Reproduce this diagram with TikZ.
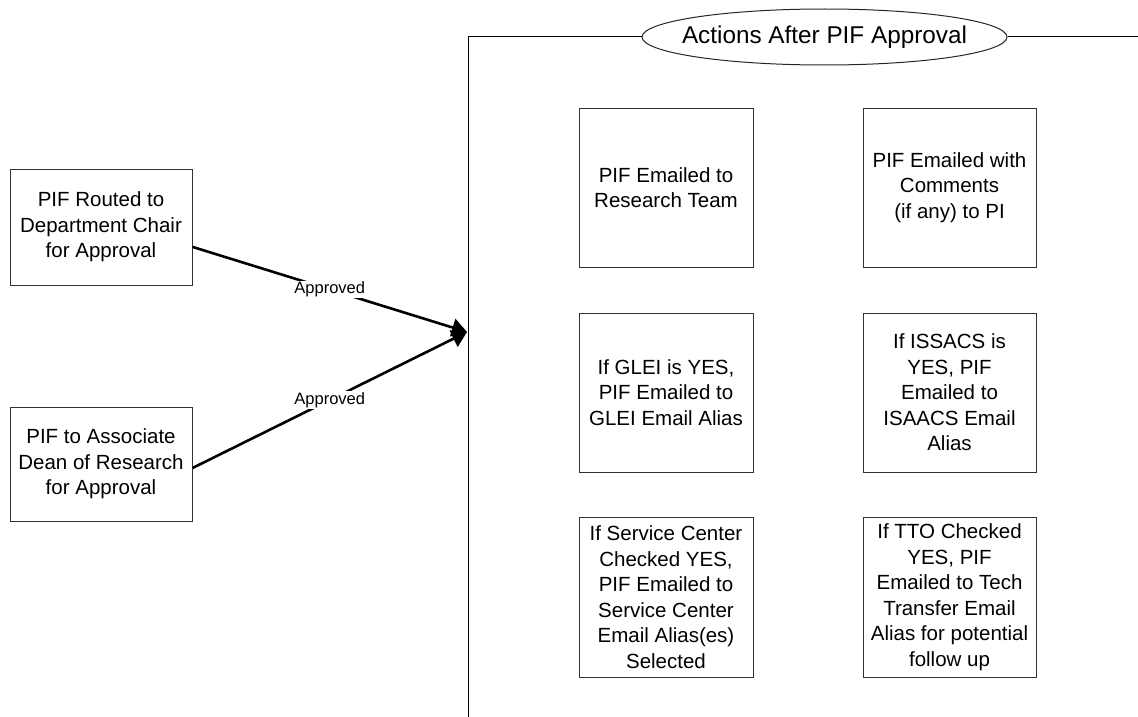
\documentclass[tikz,border=0pt]{standalone}
\usepackage{fontspec}
\setmainfont{Liberation Sans}
\usepackage{tikz}
\usetikzlibrary{arrows.meta, positioning, shapes.geometric, calc}

\begin{document}
\begin{tikzpicture}[x=1pt, y=-1pt,
    stepbox/.style={rectangle, draw=black!80, line width=1pt, align=center, inner sep=2pt,
        font=\fontsize{20.5}{25.5}\selectfont},
    approved/.style={fill=white, inner sep=1pt, font=\fontsize{16.5}{19}\selectfont},
    flow/.style={line width=2.6pt, -{Triangle[length=15pt, width=18pt]}}]
          \useasboundingbox (0,0) rectangle (1138,717);

          % left side
          \node[stepbox, minimum width=182pt, minimum height=116pt] (chair) at (101,227) {PIF Routed to\\Department Chair\\for Approval};
          \node[stepbox, minimum width=182pt, minimum height=114pt] (dean) at (101,464) {PIF to Associate\\Dean of Research\\for Approval};

          % frame and title
          \node[ellipse, draw=black!85, line width=1pt, minimum width=365pt, minimum height=56pt, inner sep=0pt,
                font=\fontsize{24.3}{28}\selectfont] (title) at (824.5,37) {\makebox[0pt]{Actions After PIF Approval}};
          \coordinate (corner) at (468,37);
          \coordinate (bottom) at (468,717);
          \coordinate (edge) at (1138,37);
          \draw[line width=1pt] (bottom) -- (corner) -- (title.west);
          \draw[line width=1pt] (title.east) -- (edge);
          \coordinate (tip) at (467,332);

          % actions
          \node[stepbox, minimum width=174pt, minimum height=159pt] (team) at (666,187.5) {PIF Emailed to\\Research Team};
          \node[stepbox, minimum width=173pt, minimum height=159pt] (pi) at (949.5,187.5) {PIF Emailed with\\Comments\\(if any) to PI};
          \node[stepbox, minimum width=174pt, minimum height=159pt] (glei) at (666,392.5) {If GLEI is YES,\\PIF Emailed to\\GLEI Email Alias};
          \node[stepbox, minimum width=173pt, minimum height=159pt] (isaacs) at (949.5,392.5) {If ISSACS is\\YES, PIF\\Emailed to\\ISAACS Email\\Alias};
          \node[stepbox, minimum width=174pt, minimum height=160pt] (service) at (666,597) {If Service Center\\Checked YES,\\PIF Emailed to\\Service Center\\Email Alias(es)\\Selected};
          \node[stepbox, minimum width=173pt, minimum height=160pt] (tto) at (949.5,597) {If TTO Checked\\YES, PIF\\Emailed to Tech\\Transfer Email\\Alias for potential\\follow up};

          \draw[flow] ($(chair.north east)!0.67!(chair.south east)$) -- node[approved] (ok1) {Approved} (tip);
          \draw[flow] ($(dean.north east)!0.535!(dean.south east)$) -- node[approved] (ok2) {Approved} (tip);
        \end{tikzpicture}
\end{document}
